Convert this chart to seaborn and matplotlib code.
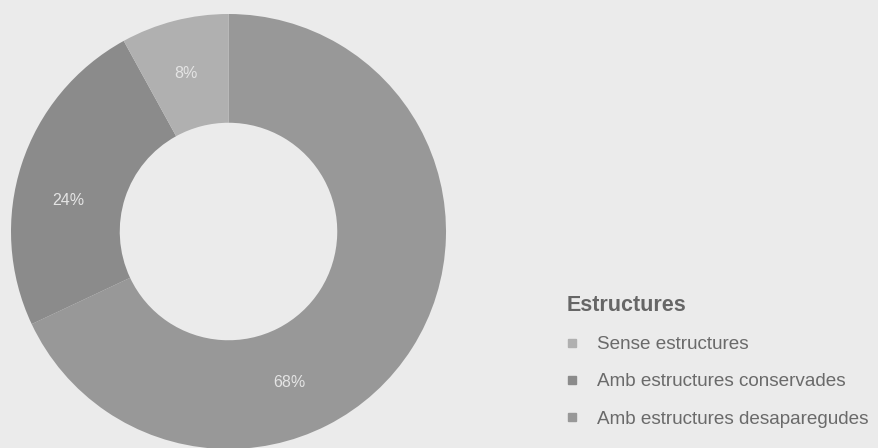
import matplotlib
matplotlib.use("Agg")
import matplotlib.pyplot as plt
from matplotlib.lines import Line2D
import numpy as np
import seaborn as sns

# ---- data ----
categories = ["Sense estructures", "Amb estructures conservades", "Amb estructures desaparegudes"]
values = [8, 24, 68]
pct_labels = ["8%", "24%", "68%"]
legend_title = "Estructures"

# ---- style ----
colors = {"Sense estructures": "#b0b0b0",
          "Amb estructures conservades": "#8b8b8b",
          "Amb estructures desaparegudes": "#989898"}
bg = "#ebebeb"
# label angles (degrees) as placed in the reference
label_angles = {"8%": 105, "24%": 169, "68%": -68}

sns.set_theme(style="white")
plt.rcParams["font.family"] = ["Liberation Sans", "DejaVu Sans"]

fig = plt.figure(figsize=(8.79, 4.48), dpi=100, facecolor=bg)
ax = fig.add_axes([11 / 879, -1 / 448, 435 / 879, 435 / 448])
ax.set_facecolor(bg)

# draw in clockwise order from top: 68%, 24%, 8%
order = [2, 1, 0]
vals = [values[i] for i in order]
cols = [colors[categories[i]] for i in order]
wedges, _ = ax.pie(vals, colors=cols, startangle=90, counterclock=False,
                   radius=1.0, wedgeprops=dict(width=0.5, linewidth=0))

for i in order:
    lab = pct_labels[i]
    a = np.deg2rad(label_angles[lab])
    ax.text(0.75 * np.cos(a), 0.75 * np.sin(a), lab, ha="center", va="center",
            fontsize=11.5, color="#e4e4e4")

ax.set_xlim(-1, 1)
ax.set_ylim(-1, 1)
ax.set_aspect("equal")
ax.axis("off")

handles = [Line2D([0], [0], marker="s", linestyle="none", markersize=6,
                  markerfacecolor=colors[c], markeredgecolor=colors[c]) for c in categories]
leg = fig.legend(handles, categories, title=legend_title, loc="upper left",
                 bbox_to_anchor=(567 / 879, 1 - 295 / 448), frameon=False,
                 fontsize=13.6, title_fontproperties={"weight": "bold", "size": 15.5},
                 handlelength=0.55, handletextpad=1.05, labelspacing=1.06,
                 borderpad=0, borderaxespad=0, alignment="left")
for t in leg.get_texts():
    t.set_color("#6a6a6a")
leg.get_title().set_color("#666666")

fig.savefig("out.png", dpi=100, facecolor=bg)
